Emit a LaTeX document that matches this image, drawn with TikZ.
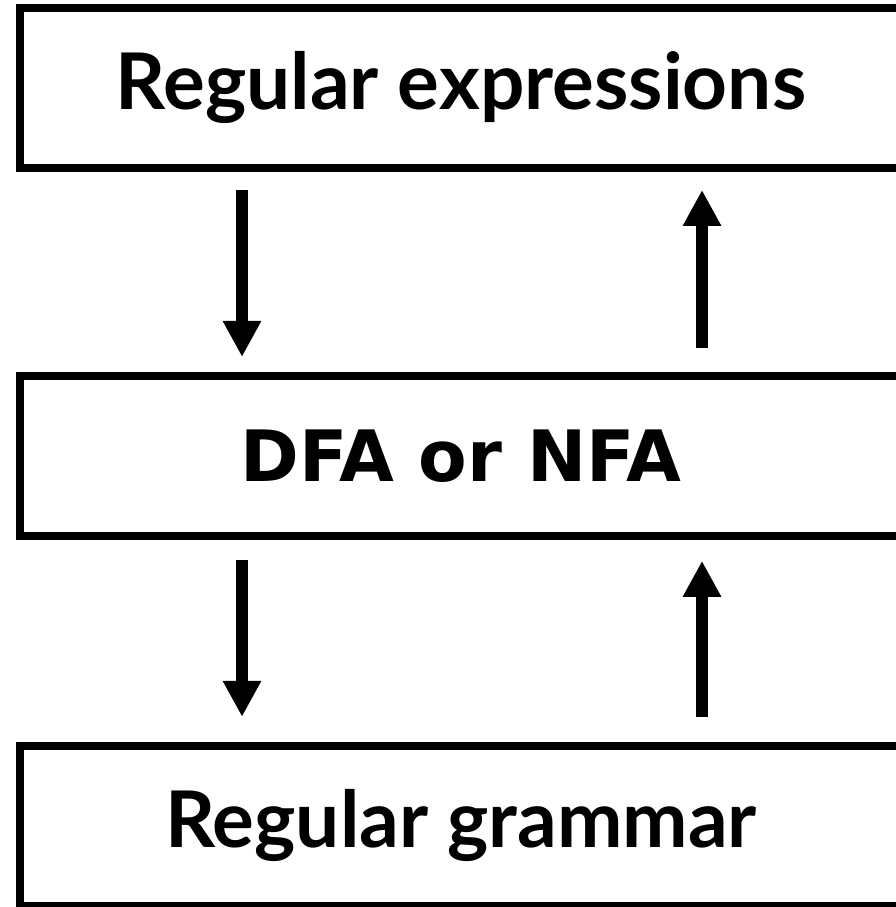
\documentclass[tikz,border=0pt]{standalone}
\usepackage{fontspec}
\setmainfont{Lato}
\newfontfamily\dejavu{DejaVu Sans}
\usetikzlibrary{arrows.meta,positioning}

\begin{document}
\begin{tikzpicture}[
    caja/.style={draw, line width=4.5pt, minimum width=17.64cm, minimum height=3.2cm,
                 inner sep=0pt, font=\fontsize{44.5}{48}\selectfont\bfseries},
    flecha/.style={line width=6.8pt, -{Triangle[width=20.5pt,length=20.5pt]}}
  ]

  % marco de la figura
  \useasboundingbox (0,0) rectangle (17.9,18.14);

  % desplazamientos de las flechas respecto al centro de las cajas
  \def\izq{-4.38cm}
  \def\der{4.82cm}

  % --- cajas ---
  \node[caja] (expr) at (9.22,16.38) {Regular expressions};
  \node[caja, below=4cm of expr, font=\dejavu\fontsize{40.3}{44}\selectfont\bfseries] (afd) {DFA or NFA};
  \node[caja, below=4.04cm of afd] (gram) {Regular grammar};

  % --- flechas entre expresiones y autómatas ---
  \draw[flecha, shorten <=0.36cm, shorten >=0.3cm]
        ([xshift=\izq]expr.south) -- ([xshift=\izq]afd.north);
  \draw[flecha, shorten <=0.48cm, shorten >=0.36cm]
        ([xshift=\der]afd.north) -- ([xshift=\der]expr.south);

  % --- flechas entre autómatas y gramática ---
  \draw[flecha, shorten <=0.4cm, shorten >=0.5cm]
        ([xshift=\izq]afd.south) -- ([xshift=\izq]gram.north);
  \draw[flecha, shorten <=0.5cm, shorten >=0.42cm]
        ([xshift=\der]gram.north) -- ([xshift=\der]afd.south);

\end{tikzpicture}
\end{document}
